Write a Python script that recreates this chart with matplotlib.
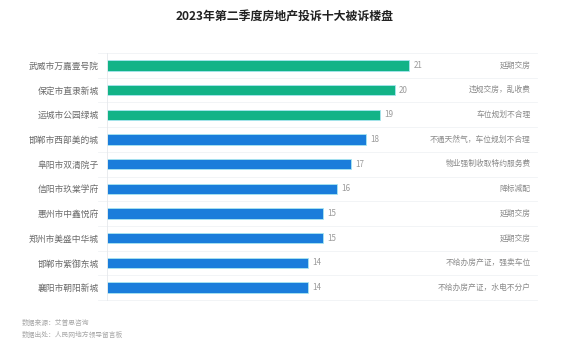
import matplotlib
matplotlib.use("Agg")
import matplotlib.pyplot as plt

plt.rcParams['font.family'] = ['Noto Sans CJK SC', 'DejaVu Sans']

names = ["武威市万嘉壹号院", "保定市直隶新城", "运城市公园绿城", "邯郸市西部美的城", "阜阳市双清院子",
         "信阳市玖棠学府", "惠州市中鑫悦府", "郑州市美盛中华城", "邯郸市紫御东城", "襄阳市朝阳新城"]
counts = [21, 20, 19, 18, 17, 16, 15, 15, 14, 14]
reasons = ["延期交房", "违规交房，乱收费", "车位规划不合理", "不通天然气，车位规划不合理", "物业强制收取特约服务费",
           "降标减配", "延期交房", "延期交房", "不给办房产证，强卖车位", "不给办房产证，水电不分户"]
n_top = 3  # first three drawn in green

fig = plt.figure(figsize=(5.77, 3.52), dpi=100)
ax = fig.add_axes([107 / 577, 1 - 300 / 352, (537 - 107) / 577, (300 - 53) / 352])

ys = list(range(len(names)))
colors = ["#12B387" if i < n_top else "#1A7DDB" for i in ys]
ax.barh(ys, counts, height=0.42, color=colors, edgecolor="#A8E6F0", linewidth=0.6)
for y, c in zip(ys, counts):
    ax.text(c + 0.3, y, str(c), va="center", ha="left", fontsize=5.8, color="#9A9A9A")
for y, r in zip(ys, reasons):
    ax.text(0.985, y, r, transform=ax.get_yaxis_transform(), va="center", ha="right",
            fontsize=5.6, color="#8A8A8A")
for k in range(len(names) + 1):
    ax.axhline(k - 0.5, color="#F0F3F5", linewidth=0.6, xmin=-0.02, clip_on=False)

ax.set_ylim(len(names) - 0.5, -0.5)
ax.set_xlim(0, 21 * 430 / 302)
ax.set_yticks(ys)
ax.set_yticklabels(names, fontsize=6.3, color="#6A6A6A")
ax.tick_params(axis="y", length=0, pad=6)
ax.set_xticks([])
for s in ["top", "right", "bottom"]:
    ax.spines[s].set_visible(False)
ax.spines["left"].set_color("#E6E9EC")
ax.spines["left"].set_linewidth(0.6)

fig.text(285 / 577, 1 - 17 / 352, "2023年第二季度房地产投诉十大被诉楼盘", ha="center", va="center",
         fontsize=8.6, fontweight="bold", color="#222222")
fig.text(22 / 577, 1 - 323 / 352, "数据来源：艾普思咨询", ha="left", va="center", fontsize=4.9, color="#A8A8A8")
fig.text(22 / 577, 1 - 335 / 352, "数据出处：人民网地方领导留言板", ha="left", va="center", fontsize=4.9, color="#A8A8A8")

fig.savefig("out.png", dpi=100, facecolor="white")
